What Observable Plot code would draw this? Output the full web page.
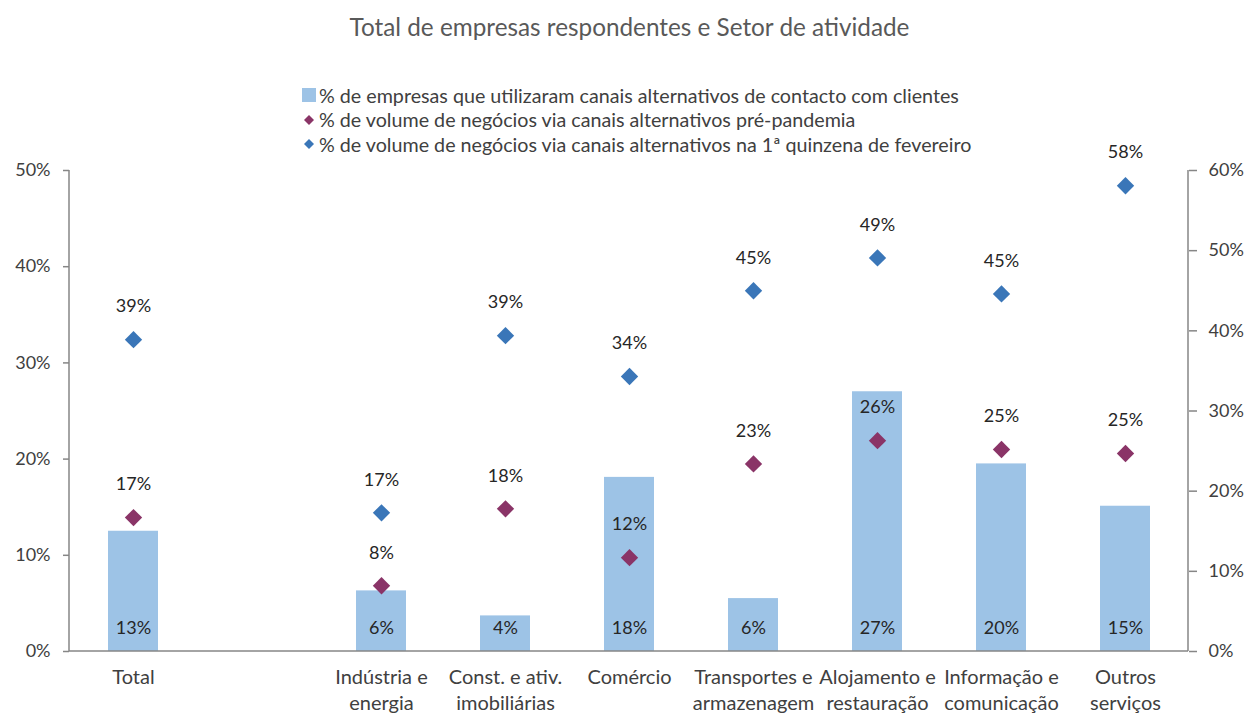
<!DOCTYPE html>
<html><head><meta charset="utf-8">
<script src="https://cdn.jsdelivr.net/npm/d3@7"></script>
<script src="https://cdn.jsdelivr.net/npm/@observablehq/plot@0.6"></script>
<style>
body{margin:0;background:#fff;font-family:Lato,sans-serif;}
#wrap{position:relative;width:1249px;height:713px;overflow:hidden;}
#chart{position:absolute;left:0;top:0;}
#title{position:absolute;left:0;width:1259px;top:12px;text-align:center;font-size:24.3px;color:#595959;}
#legend{position:absolute;left:300px;top:83px;font-size:19.7px;color:#404040;}
.li{height:24.5px;display:flex;align-items:center;white-space:nowrap;}
.mk{width:18px;display:inline-flex;justify-content:center;align-items:center;margin-right:1px;}
</style></head><body>
<div id="wrap"><div id="chart"></div>
<div id="title">Total de empresas respondentes e Setor de atividade</div>
<div id="legend"></div></div>
<script>
const categories = ["Total","Indústria e\nenergia","Const. e ativ.\nimobiliárias","Comércio","Transportes e\narmazenagem","Alojamento e\nrestauração","Informação e\ncomunicação","Outros\nserviços"];
const gapSlot = " ";
const empresas = [12.5, 6.3, 3.7, 18.1, 5.5, 27.0, 19.5, 15.1];
const prePandemia = [16.7, 8.2, 17.8, 11.7, 23.4, 26.3, 25.2, 24.7];
const fevereiro = [38.9, 17.3, 39.4, 34.3, 45.0, 49.1, 44.6, 58.1];
const leftTicks = [0, 10, 20, 30, 40, 50];
const rightTicks = [0, 10, 20, 30, 40, 50, 60];
const seriesNames = [
  "% de empresas que utilizaram canais alternativos de contacto com clientes",
  "% de volume de negócios via canais alternativos pré-pandemia",
  "% de volume de negócios via canais alternativos na 1ª quinzena de fevereiro"
];
const colors = ["#9DC3E6", "#8A3467", "#3A76B8"];

const leftMax = 50, rightMax = 60, k = leftMax / rightMax;
const xDomain = [categories[0], gapSlot, ...categories.slice(1)];
const rows = categories.map((c, i) => ({cat: c, bar: empresas[i], pre: prePandemia[i], fev: fevereiro[i]}));
const pct = v => Math.round(v) + "%";

const axisLines = (index, scales, values, dim) => {
  const {width, height, marginLeft, marginRight, marginTop, marginBottom} = dim;
  const g = d3.create("svg:g").attr("stroke", "#868686").attr("stroke-width", 1.5);
  const x0 = marginLeft, x1 = width - marginRight, y0 = marginTop, y1 = height - marginBottom;
  g.append("line").attr("x1", x0).attr("x2", x0).attr("y1", y0).attr("y2", y1);
  g.append("line").attr("x1", x1).attr("x2", x1).attr("y1", y0).attr("y2", y1);
  g.append("line").attr("x1", x0).attr("x2", x1).attr("y1", y1).attr("y2", y1);
  return g.node();
};

const chart = Plot.plot({
  width: 1249, height: 713,
  marginTop: 170, marginBottom: 62, marginLeft: 69, marginRight: 61,
  style: {fontFamily: "Lato, sans-serif", fontSize: "18px", color: "#404040", background: "transparent"},
  x: {domain: xDomain, paddingInner: 0.6, paddingOuter: 0.3, axis: null},
  y: {domain: [0, leftMax], axis: null},
  marks: [
    Plot.barY(rows, {x: "cat", y: "bar", fill: colors[0]}),
    Plot.text(rows, {x: "cat", y: () => 0, text: d => pct(d.bar), dy: -23, fill: "#262626"}),
    Plot.dot(rows, {x: "cat", y: d => d.pre * k, symbol: "diamond2", r: 7.8, fill: colors[1], stroke: null}),
    Plot.dot(rows, {x: "cat", y: d => d.fev * k, symbol: "diamond2", r: 7.8, fill: colors[2], stroke: null}),
    Plot.text(rows, {x: "cat", y: d => d.pre * k, text: d => pct(d.pre), dy: -33, fill: "#262626"}),
    Plot.text(rows, {x: "cat", y: d => d.fev * k, text: d => pct(d.fev), dy: -33, fill: "#262626"}),
    Plot.axisY({anchor: "left", label: null, ticks: leftTicks, tickFormat: d => d + "%", tickSize: 6, tickPadding: 13, stroke: "#868686", strokeWidth: 1.5, fill: "#404040"}),
    Plot.axisY({anchor: "right", label: null, ticks: rightTicks.map(v => v * k), tickFormat: d => Math.round(d / k) + "%", tickSize: 8, tickPadding: 12, stroke: "#868686", strokeWidth: 1.5, fill: "#404040"}),
    Plot.axisX({anchor: "bottom", label: null, tickSize: 0, tickPadding: 14, fontSize: 20, lineHeight: 1.3, fill: "#404040", tickFormat: d => d}),
    axisLines
  ]
});
document.getElementById("chart").appendChild(chart);

const legend = document.getElementById("legend");
seriesNames.forEach((name, i) => {
  const li = document.createElement("div"); li.className = "li";
  const mk = document.createElement("span"); mk.className = "mk";
  if (i === 0) mk.innerHTML = `<svg width="14" height="14"><rect width="14" height="14" fill="${colors[0]}"/></svg>`;
  else mk.innerHTML = `<svg width="12" height="12"><path d="M6 1L11 6L6 11L1 6Z" fill="${colors[i]}"/></svg>`;
  li.appendChild(mk);
  li.appendChild(document.createTextNode(name));
  legend.appendChild(li);
});
</script>
</body></html>
